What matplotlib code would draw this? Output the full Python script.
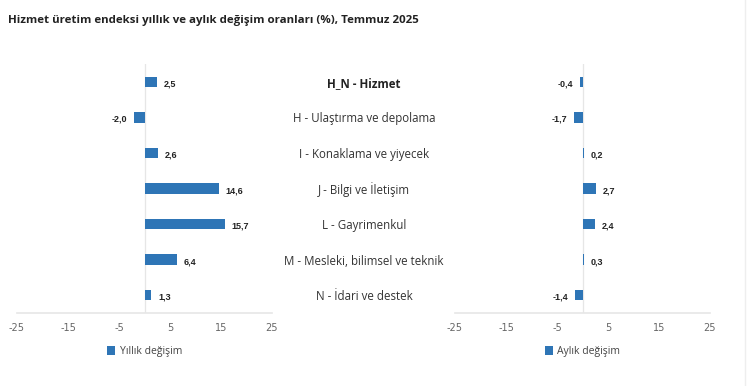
import matplotlib
matplotlib.use("Agg")
import matplotlib.pyplot as plt
import matplotlib.transforms as mtransforms
from matplotlib.patches import Patch

categories = ["H_N - Hizmet", "H - Ulaştırma ve depolama", "I - Konaklama ve yiyecek",
              "J - Bilgi ve İletişim", "L - Gayrimenkul", "M - Mesleki, bilimsel ve teknik",
              "N - İdari ve destek"]
yearly = [2.5, -2.0, 2.6, 14.6, 15.7, 6.4, 1.3]
monthly = [-0.4, -1.7, 0.2, 2.7, 2.4, 0.3, -1.4]
ticks = [-25, -15, -5, 5, 15, 25]
title = "Hizmet üretim endeksi yıllık ve aylık değişim oranları (%), Temmuz 2025"
legend_labels = ["Yıllık değişim", "Aylık değişim"]

bar_color = "#2E75B6"
grid_color = "#E6E6E6"

fig = plt.figure(figsize=(7.5, 3.86), dpi=100)
fig.patch.set_facecolor("white")

bottom = (386 - 313) / 386
height = 249 / 386
ax1 = fig.add_axes([17 / 750, bottom, 255 / 750, height])
ax2 = fig.add_axes([455 / 750, bottom, 255 / 750, height])

def fmt(v):
    return f"{v:.1f}".replace(".", ",")

for ax, vals, lab in [(ax1, yearly, legend_labels[0]), (ax2, monthly, legend_labels[1])]:
    ypos = list(range(len(categories)))
    ax.barh(ypos, vals, height=0.29, color=bar_color, zorder=3)
    ax.set_xlim(-25, 25)
    ax.set_ylim(len(categories) - 0.5, -0.5)
    ax.set_xticks(ticks)
    ax.set_xticklabels([str(t) for t in ticks], family=["DejaVu Sans"],
                       fontsize=7, color="#666666")
    ax.tick_params(axis="x", length=0, pad=7)
    ax.set_yticks([])
    for s in ["top", "right", "left"]:
        ax.spines[s].set_visible(False)
    ax.spines["bottom"].set_color(grid_color)
    ax.spines["bottom"].set_linewidth(1.2)
    ax.axvline(0, color=grid_color, lw=0.9, zorder=1)
    for y, v in zip(ypos, vals):
        off = 5 if v >= 0 else -5
        ax.annotate(fmt(v), (v, y), xytext=(off, -1.5), textcoords="offset points",
                    ha="left" if v >= 0 else "right", va="center",
                    fontsize=6.5, fontweight="bold", color="#222222",
                    family=["Liberation Sans", "DejaVu Sans"])
    leg = ax.legend(handles=[Patch(facecolor=bar_color, label=lab)], loc="center",
                    bbox_to_anchor=(0.5, -0.155), frameon=False,
                    prop={"family": ["Open Sans", "DejaVu Sans"], "size": 7.5},
                    handlelength=0.8, handleheight=1.0, handletextpad=0.4)
    for t in leg.get_texts():
        t.set_color("#444444")

trans = mtransforms.blended_transform_factory(fig.transFigure, ax1.transData)
trans = trans + mtransforms.ScaledTranslation(0, -1.5 / 100, fig.dpi_scale_trans)
for i, c in enumerate(categories):
    fig.text(364 / 750, i, c, transform=trans, ha="center", va="center",
             fontsize=8.3, color="#333333" if i else "#222222",
             fontweight="bold" if i == 0 else "normal",
             family=["Open Sans", "DejaVu Sans"])

fig.text(8 / 750, 1 - 20 / 386, title, ha="left", va="center", fontsize=8.25,
         fontweight="bold", color="#222222", family=["Open Sans", "DejaVu Sans"])

fig.add_artist(plt.Line2D([745 / 750, 745 / 750], [0, 1], transform=fig.transFigure,
                          color="#EEEEEE", lw=1))

fig.savefig("out.png", dpi=100, facecolor="white")
